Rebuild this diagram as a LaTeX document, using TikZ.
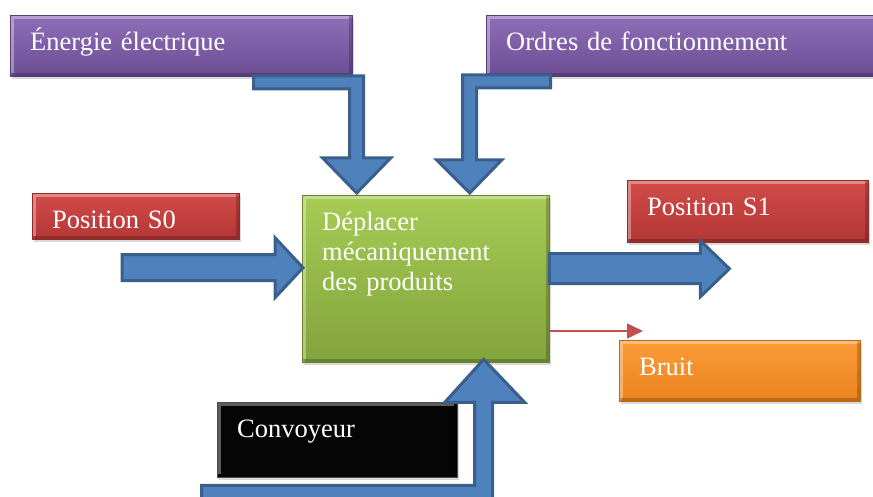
\documentclass[tikz,border=0pt]{standalone}
\usepackage{fontspec}
\setmainfont{Liberation Serif}
\usetikzlibrary{arrows.meta,calc,shadows}

\definecolor{violetT}{HTML}{8F6EB8}
\definecolor{violetB}{HTML}{6C4D94}
\definecolor{rougeT}{HTML}{D24B49}
\definecolor{rougeB}{HTML}{B33735}
\definecolor{vertT}{HTML}{A6CC55}
\definecolor{vertB}{HTML}{82A33C}
\definecolor{orangeT}{HTML}{FB9C38}
\definecolor{orangeB}{HTML}{EA831E}
\definecolor{bleuF}{HTML}{4F81BD}
\definecolor{bleuC}{HTML}{3A5F8B}
\definecolor{rougeF}{HTML}{C0504D}

\begin{document}
\begin{tikzpicture}[x=1pt,y=-1pt,
  bloc/.style={anchor=north west,inner xsep=20pt,inner ysep=0pt,text height=35pt,
    align=left,text=white,font=\fontsize{26.5}{30}\selectfont,
    drop shadow={opacity=0.3,shadow xshift=2pt,shadow yshift=-3pt},
    path picture={
      \draw[white,opacity=0.35,line width=3pt] ($(path picture bounding box.south west)+(2pt,3pt)$) |- ($(path picture bounding box.north east)+(-3pt,-2pt)$);
      \draw[black,opacity=0.2,line width=3pt] ($(path picture bounding box.south west)+(3pt,2pt)$) -| ($(path picture bounding box.north east)+(-2pt,-3pt)$);}},
  violetbox/.style={bloc,top color=violetT,bottom color=violetB,draw=violetB!80!black,thin},
  rougebox/.style={bloc,top color=rougeT,bottom color=rougeB,draw=rougeB!80!black,thin},
  vertbox/.style={bloc,top color=vertT,bottom color=vertB,draw=vertB!80!black,thin},
  orangebox/.style={bloc,top color=orangeT,bottom color=orangeB,draw=orangeB!80!black,thin},
  noirbox/.style={bloc,fill=black!98,draw=black!70,thin},
  bigarrow/.style={fill=bleuF,draw=bleuC,line width=3pt,line join=miter},
  smallarrow/.style={-{Triangle[length=16pt,width=15pt]},draw=rougeF,line width=1.3pt}]
\useasboundingbox (0,0) rectangle (873,497);
\clip (0,0) rectangle (873,497);
%boxes
\node[violetbox,text width=302pt,text depth=26pt] (energie) at (10,15) {Énergie électrique};
\node[violetbox,text width=359pt,text depth=26pt] (ordres) at (486,15) {Ordres de fonctionnement};
\node[rougebox,text width=167pt,text depth=11pt] (s0) at (32,193) {Position S0};
\node[rougebox,text width=201pt,text depth=27pt] (s1) at (627,180) {Position S1};
\node[vertbox,text width=207pt,text depth=132pt] (main) at (302,195) {Déplacer\\mécaniquement\\des produits};
\node[orangebox,text width=201pt,text depth=26pt] (bruit) at (619,340) {Bruit};
\node[noirbox,text width=200pt,text depth=40pt] (convoyeur) at (217,402) {Convoyeur};
%arrow tips on the function box
\coordinate (tipS0) at ($(main.west)+(1,-11)$);
\coordinate (tipS1) at ($(main.east)+(180,-10)$);
\coordinate (tipE) at ($(main.north)+(-69,-2)$);
\coordinate (tipO) at ($(main.north)+(44,-2)$);
\coordinate (tipC) at ($(main.south)+(58,-3)$);
\coordinate (bruitEnd) at (643,331);
%inputs
\draw[bigarrow] (tipS0) -- ++(-28,-30) -- ++(0,17) -- ++(-153,0) -- ++(0,26) -- ++(153,0) -- ++(0,17) -- cycle;
\draw[bigarrow] (tipE) -- ++(34,-35) -- ++(-27,0) -- ++(0,-82) -- ++(-110,0) -- ++(0,13) -- ++(96,0) -- ++(0,69) -- ++(-27,0) -- cycle;
\draw[bigarrow] (tipO) -- ++(-33,-33) -- ++(26,0) -- ++(0,-85) -- ++(88,0) -- ++(0,13) -- ++(-74,0) -- ++(0,72) -- ++(25,0) -- cycle;
\draw[bigarrow] (tipC) -- ++(41,43) -- ++(-32,0) -- ++(0,101) -- ++(-291,0) -- ++(0,-18) -- ++(273,0) -- ++(0,-83) -- ++(-30,0) -- cycle;
%outputs
\draw[bigarrow] (tipS1) -- ++(-29,-28) -- ++(0,13) -- ++(-151,0) -- ++(0,30) -- ++(151,0) -- ++(0,13) -- cycle;
\draw[smallarrow] (main.east |- bruitEnd) -- (bruitEnd);
\end{tikzpicture}
\end{document}
